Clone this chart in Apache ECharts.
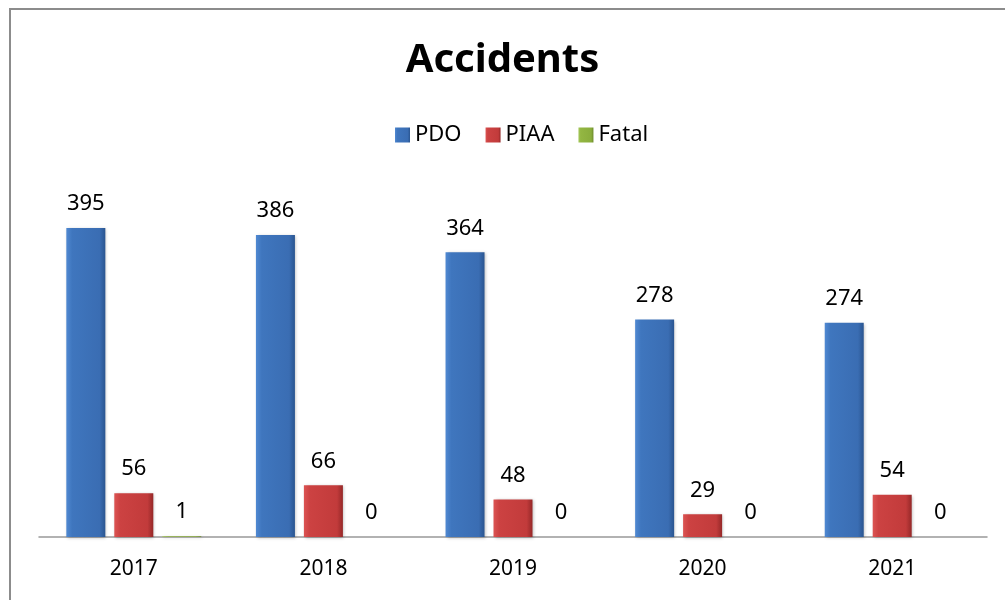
<!DOCTYPE html>
<html>
<head>
<meta charset="utf-8">
<script src="https://cdn.jsdelivr.net/npm/echarts@6/dist/echarts.min.js"></script>
<style>
  html, body { margin: 0; padding: 0; background: #fff; }
  #chart { width: 1005px; height: 600px; }
</style>
</head>
<body>
<div id="chart"></div>
<script>
// Dữ liệu biểu đồ
const years = ['2017', '2018', '2019', '2020', '2021'];
const pdo = [395, 386, 364, 278, 274];
const piaa = [56, 66, 48, 29, 54];
const fatal = [1, 0, 0, 0, 0];

// Gradient ngang để giả hiệu ứng nổi của cột
function barGradient(c) {
    return new echarts.graphic.LinearGradient(0, 0, 1, 0, [
        { offset: 0, color: c[0] },
        { offset: 0.15, color: c[1] },
        { offset: 0.85, color: c[2] },
        { offset: 1, color: c[3] }
    ]);
}

const labelStyle = {
    show: true,
    position: 'top',
    distance: 13,
    fontFamily: 'Noto Sans',
    fontSize: 22,
    color: '#000'
};

function makeSeries(name, data, colors) {
    return {
        name: name,
        type: 'bar',
        data: data,
        barWidth: 39,
        barGap: '23%',
        itemStyle: {
            color: barGradient(colors),
            shadowColor: 'rgba(0,0,0,0.25)',
            shadowBlur: 3,
            shadowOffsetX: 1,
            shadowOffsetY: 1
        },
        label: labelStyle
    };
}

const chart = echarts.init(document.getElementById('chart'));
chart.setOption({
    animation: false,
    color: ['#3d72ba', '#c94040', '#8fb43f'],
    title: {
        text: 'Accidents',
        left: 'center',
        top: 36,
        textStyle: {
            fontFamily: 'Noto Sans',
            fontSize: 40,
            fontWeight: 'bold',
            color: '#000'
        }
    },
    legend: {
        top: 119,
        left: 390,
        itemWidth: 15,
        itemHeight: 15,
        itemGap: 24,
        icon: 'rect',
        textStyle: {
            fontFamily: 'Noto Sans',
            fontSize: 22,
            color: '#000'
        },
        data: ['PDO', 'PIAA', 'Fatal']
    },
    grid: {
        left: 39,
        right: 18,
        top: 185,
        bottom: 63,
        containLabel: false
    },
    xAxis: {
        type: 'category',
        data: years,
        axisLine: { lineStyle: { color: '#999', width: 1.5 } },
        axisTick: { show: false },
        axisLabel: {
            margin: 22,
            fontFamily: 'Noto Sans',
            fontSize: 21,
            color: '#000'
        }
    },
    yAxis: {
        type: 'value',
        min: 0,
        max: 450,
        show: false,
        splitLine: { show: false }
    },
    graphic: [{
        type: 'rect',
        shape: { x: 10, y: 9, width: 1010, height: 620 },
        style: { fill: 'none', stroke: '#8c8c8c', lineWidth: 2 },
        silent: true
    }],
    series: [
        makeSeries('PDO', pdo, ['#5089d2', '#3f76be', '#3a6db3', '#2a5590']),
        makeSeries('PIAA', piaa, ['#dc5453', '#cc4242', '#c23b3b', '#952828']),
        makeSeries('Fatal', fatal, ['#a6c95d', '#93b642', '#8aad3c', '#6b8a2a'])
    ]
});
</script>
</body>
</html>
